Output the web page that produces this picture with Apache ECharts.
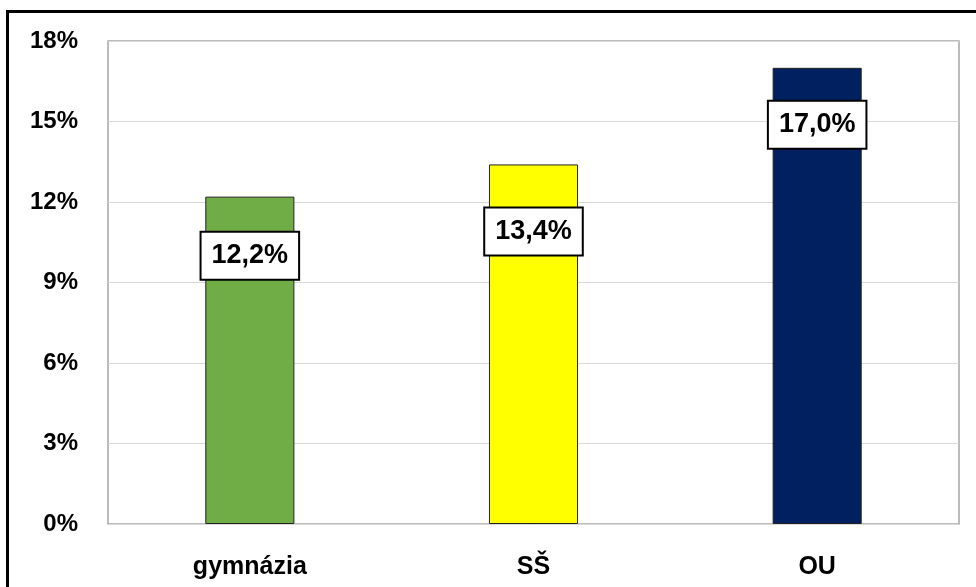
<!DOCTYPE html>
<html>
<head>
<meta charset="utf-8">
<script src="https://cdn.jsdelivr.net/npm/echarts@6/dist/echarts.min.js"></script>
<style>
html,body{margin:0;padding:0;background:#fff;}
#chart{width:976px;height:587px;}
</style>
</head>
<body>
<div id="chart"></div>
<script>
const categories = ['gymnázia', 'SŠ', 'OU'];
const values = [12.2, 13.4, 17.0];
const barColors = ['#70ad47', '#ffff00', '#002060'];
const yTicks = [0, 3, 6, 9, 12, 15, 18];

// label placement (style only)
const labelDistance = [36, 44, 34];

const chart = echarts.init(document.getElementById('chart'));
const fontFam = 'Liberation Sans, Arial, sans-serif';
chart.setOption({
  animation: false,
  backgroundColor: '#fff',
  graphic: [{
    type: 'rect',
    shape: {x: 7.5, y: 11.5, width: 1000, height: 600},
    style: {fill: 'none', stroke: '#000', lineWidth: 3},
    silent: true
  }],
  grid: {
    left: 108, top: 41, right: 17, bottom: 63,
    show: true, borderColor: '#a6a6a6', borderWidth: 1.5, backgroundColor: 'transparent'
  },
  xAxis: {
    type: 'category',
    data: categories,
    axisTick: {show: false},
    axisLine: {show: false},
    axisLabel: {fontFamily: fontFam, fontWeight: 'bold', fontSize: 25, color: '#000', margin: 31}
  },
  yAxis: {
    type: 'value',
    min: yTicks[0], max: yTicks[yTicks.length - 1], interval: yTicks[1] - yTicks[0],
    axisLine: {show: false},
    axisTick: {show: false},
    splitLine: {lineStyle: {color: '#d9d9d9', width: 1}},
    axisLabel: {fontFamily: fontFam, fontWeight: 'bold', fontSize: 24, color: '#000', margin: 30,
      formatter: v => v + '%'}
  },
  series: [{
    type: 'bar',
    barWidth: '31.4%',
    data: values.map((v, i) => ({
      value: v,
      itemStyle: {color: barColors[i]},
      label: {distance: labelDistance[i]}
    })),
    itemStyle: {borderColor: '#222', borderWidth: 1},
    label: {
      show: true,
      position: 'insideTop',
      formatter: p => p.value.toFixed(1).replace('.', ',') + '%',
      fontFamily: fontFam,
      fontWeight: 'bold',
      fontSize: 27,
      lineHeight: 28,
      color: '#000',
      backgroundColor: '#fff',
      borderColor: '#000',
      borderWidth: 2,
      padding: [9, 10, 9, 10]
    }
  }]
});
</script>
</body>
</html>
